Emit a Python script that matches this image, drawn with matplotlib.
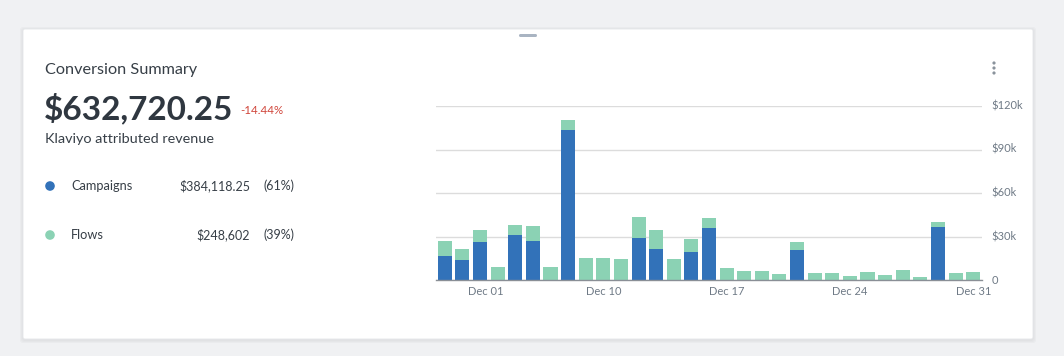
import matplotlib.pyplot as plt
import matplotlib.transforms as mtransforms
from matplotlib.patches import FancyBboxPatch, Circle
import numpy as np

plt.rcParams['font.family'] = ['Lato', 'DejaVu Sans']

# daily attributed revenue, Dec 1 - Dec 31 ($)
days = list(range(1, 32))
campaigns = [16300, 13800, 26000, 0, 31000, 27100, 0, 103500, 0, 0, 0, 29200, 21400, 0, 19500, 35900,
             0, 0, 0, 0, 20900, 0, 0, 0, 0, 0, 0, 0, 36800, 0, 0]
flows = [10600, 7600, 8300, 9000, 6900, 10100, 9200, 6900, 15200, 15200, 14500, 14300, 13100, 14500, 9000, 7100,
         8300, 6400, 6400, 4100, 5500, 4600, 4800, 2800, 5500, 3200, 6700, 2100, 3200, 4800, 5500]
tick_days = [1, 10, 17, 24, 31]
tick_labels = ["Dec 01", "Dec 10", "Dec 17", "Dec 24", "Dec 31"]
y_ticks = [0, 30000, 60000, 90000, 120000]
y_labels = ["0", "$30k", "$60k", "$90k", "$120k"]

BLUE = "#3272b9"
GREEN = "#8bd2b4"
W, H = 1064, 356

fig = plt.figure(figsize=(W / 100, H / 100), dpi=100)
fig.patch.set_facecolor("#f0f1f3")

# card + shadow
bg = fig.add_axes([0, 0, 1, 1])
bg.set_xlim(0, W)
bg.set_ylim(H, 0)
bg.axis("off")
for i, a in enumerate([0.025, 0.02, 0.015]):
    d = 3 - i
    bg.add_patch(FancyBboxPatch((23 - d, 29 - d + 1), 1010 + 2 * d, 310 + 2 * d,
                                boxstyle="round,pad=0,rounding_size=3", fc="black", ec="none", alpha=a))
bg.add_patch(FancyBboxPatch((23, 29), 1010, 310, boxstyle="round,pad=0,rounding_size=2",
                            fc="white", ec="#e4e6e9", lw=0.6))
bg.add_patch(FancyBboxPatch((519, 34), 18, 3, boxstyle="round,pad=0,rounding_size=1.5",
                            fc="#a9b4c2", ec="none"))
for yy in (63, 68, 73):
    bg.add_patch(Circle((994, yy), 1.6, fc="#8a939c", ec="none"))

# left-hand summary
dark = "#373f47"
bg.text(45, 70, "Conversion Summary", fontsize=11.7, color=dark, va="center")
bg.text(44, 108, "$632,720.25", fontsize=24, fontweight="bold", color="#2f3740", va="center")
bg.text(240, 110, "-14.44%", fontsize=8.3, color="#d0453a", va="center")
bg.text(45, 139, "Klaviyo attributed revenue", fontsize=10.4, color=dark, va="center")
for yy, col, name, amt, pct in [(186, BLUE, "Campaigns", "$384,118.25", "(61%)"),
                                 (235, GREEN, "Flows", "$248,602", "(39%)")]:
    bg.add_patch(Circle((50, yy), 4.8, fc=col, ec="none"))
    bg.text(71, yy, name, fontsize=9.2, color=dark, va="center")
    bg.text(250, yy, amt, fontsize=9, color=dark, va="center", ha="right")
    bg.text(263, yy, pct, fontsize=9, color=dark, va="center")

# chart
ax = fig.add_axes([436 / W, 76 / H, 546 / W, 174 / H])
ax.set_facecolor("none")
x = np.arange(len(days))
ax.bar(x, campaigns, width=0.8, color=BLUE, zorder=3)
ax.bar(x, flows, width=0.8, bottom=campaigns, color=GREEN, zorder=3)
ax.set_xlim(-0.5, len(days) - 0.5)
ax.set_ylim(0, 120000)
ax.set_yticks(y_ticks)
ax.set_yticklabels(y_labels)
ax.yaxis.tick_right()
ax.grid(axis="y", color="#dcdcdc", lw=1, zorder=0)
ax.set_xticks([d - 1 for d in tick_days])
ax.set_xticklabels(tick_labels)
ax.tick_params(axis="both", length=0, labelsize=8, labelcolor="#6f7a86")
ax.tick_params(axis="x", pad=4)
ax.tick_params(axis="y", pad=7)
for s in ["top", "left", "right"]:
    ax.spines[s].set_visible(False)
ax.spines["bottom"].set_color("#8a8f96")
ax.spines["bottom"].set_linewidth(1)
ax.spines["bottom"].set_zorder(4)
for lab in ax.get_yticklabels():
    lab.set_va("center")
first = ax.get_xticklabels()[0]
first.set_transform(first.get_transform() + mtransforms.ScaledTranslation(0.41, 0, fig.dpi_scale_trans))

fig.savefig("out.png", dpi=100, facecolor=fig.get_facecolor())
